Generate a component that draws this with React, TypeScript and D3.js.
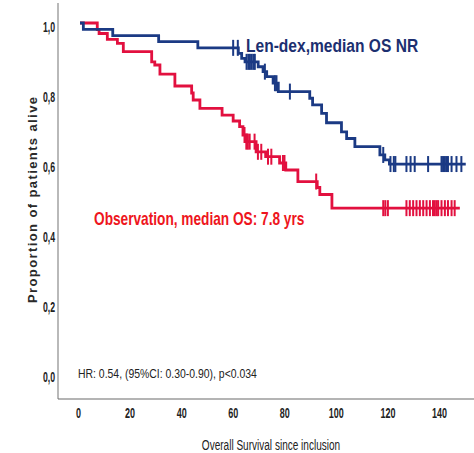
import React from "react";
import * as d3 from "d3";

// Len-dex arm: step times (months) and survival after each step
const lenTimes = [1.3, 12.7, 30.5, 45.7, 61.4, 62.7, 64, 69.1, 71, 72.4, 74.9, 76.9, 89.1, 90.2, 93.7, 95.6, 101.4, 103.4, 106.6, 116.3, 118.2, 120];
const lenSurv = [0.982, 0.964, 0.947, 0.929, 0.913, 0.899, 0.889, 0.875, 0.861, 0.847, 0.828, 0.804, 0.785, 0.766, 0.742, 0.715, 0.689, 0.67, 0.647, 0.623, 0.609, 0.597];
const lenCensor = [59.4, 61.2, 64.6, 65.3, 65.9, 66.6, 67.3, 67.8, 71.7, 75.6, 76.2, 81.4, 117.6, 120.4, 121.7, 122.3, 126.6, 128.2, 129.8, 135, 140.2, 140.8, 141.5, 142.1, 142.7, 144.1, 146, 147.9];
const lenEnd = 149.6;

// Observation arm
const obsTimes = [6.7, 7.4, 10.6, 14.5, 16.8, 27.8, 29, 31, 36.8, 43.3, 43.9, 46.5, 55.1, 59.4, 61.9, 63.2, 64.5, 68.3, 72, 77.4, 79.8, 84.5, 92, 93, 97.7];
const obsSurv = [0.981, 0.97, 0.953, 0.942, 0.918, 0.889, 0.88, 0.854, 0.82, 0.8, 0.78, 0.756, 0.737, 0.72, 0.704, 0.68, 0.661, 0.632, 0.618, 0.6, 0.58, 0.547, 0.53, 0.51, 0.471];
const obsCensor = [63.8, 64.5, 65.1, 65.8, 67.7, 69, 70.3, 72.9, 74.2, 78.7, 79.3, 91.6, 117.6, 118.4, 119.4, 126.6, 127.9, 129.2, 130.5, 131.8, 133.1, 134.4, 135.7, 136.9, 137.6, 138.3, 138.9, 140.2, 141.5, 142.7, 144.1, 145.3];
const obsEnd = 147.3;

const xTicks = [0, 20, 40, 60, 80, 100, 120, 140];
const yTicks = [0, 0.2, 0.4, 0.6, 0.8, 1.0];

const BLUE = "#1b3a84";
const RED = "#e2103f";
const FONT = "'Liberation Sans', Arial, sans-serif";

type Pt = { t: number; v: number };

const buildCurve = (times: number[], surv: number[], end: number): Pt[] => {
  const pts: Pt[] = [{ t: 0, v: 1 }];
  times.forEach((t, i) => pts.push({ t, v: surv[i] }));
  pts.push({ t: end, v: surv[surv.length - 1] });
  return pts;
};

const survAt = (pts: Pt[], t: number) => {
  let v = 1;
  for (const p of pts) if (p.t <= t) v = p.v;
  return v;
};

export default function App() {
  const ref = React.useRef<SVGSVGElement>(null);

  React.useEffect(() => {
    const width = 474;
    const height = 453;
    const svg = d3.select(ref.current);
    svg.selectAll("*").remove();

    const x = d3.scaleLinear().domain([0, 140]).range([80, 441]);
    const y = d3.scaleLinear().domain([0, 1]).range([373, 23]);

    // condensed text: no narrow font installed, so squeeze horizontally
    const narrow = (g: any, px: number, py: number, txt: string, sx: number, opts: any) =>
      g.append("text")
        .attr("transform", `translate(${px},${py}) scale(${sx},1)`)
        .attr("text-anchor", opts.anchor || "start")
        .attr("dy", opts.dy || null)
        .style("font-family", FONT)
        .style("font-weight", opts.bold ? "bold" : "normal")
        .style("font-size", opts.size + "px")
        .attr("fill", opts.fill || "#222")
        .text(txt);

    svg.append("rect").attr("width", width).attr("height", height).attr("fill", "white");

    // axes lines
    svg.append("line").attr("x1", 58).attr("x2", 58).attr("y1", 3).attr("y2", 399)
      .attr("stroke", "#8a8a8a").attr("stroke-width", 1.2);
    svg.append("line").attr("x1", 58).attr("x2", width).attr("y1", 399).attr("y2", 399)
      .attr("stroke", "#6a6a6a").attr("stroke-width", 1.2);

    const yAxis = svg.append("g");
    yTicks.forEach(d =>
      narrow(yAxis, 55, y(d) + 4, d.toFixed(1).replace(".", ","), 0.58,
        { anchor: "end", dy: "0.35em", bold: true, size: 15 }));

    const xAxis = svg.append("g");
    xTicks.forEach(d =>
      narrow(xAxis, x(d) - 1.5, 413, String(d), 0.6,
        { anchor: "middle", dy: "0.35em", bold: true, size: 15 }));

    svg.append("text")
      .attr("transform", "translate(32,200) rotate(-90)")
      .attr("text-anchor", "middle").attr("dy", "0.35em")
      .attr("textLength", 206).attr("lengthAdjust", "spacing")
      .style("font-family", FONT)
      .style("font-weight", "bold").style("font-size", "13px")
      .attr("fill", "#2a2a2a")
      .text("Proportion of patients alive");

    narrow(svg, 271, 445, "Overall Survival since inclusion", 0.67,
      { anchor: "middle", dy: "0.35em", size: 15 });

    narrow(svg, 78, 374, "HR: 0.54, (95%CI: 0.30-0.90), p<0.034", 0.87,
      { dy: "0.35em", size: 12 });

    const line = d3.line<Pt>().x(d => x(d.t)).y(d => y(d.v)).curve(d3.curveStepAfter);

    const arms = [
      { pts: buildCurve(obsTimes, obsSurv, obsEnd), censor: obsCensor, color: RED },
      { pts: buildCurve(lenTimes, lenSurv, lenEnd), censor: lenCensor, color: BLUE },
    ];

    arms.forEach(arm => {
      svg.append("path").datum(arm.pts)
        .attr("d", line)
        .attr("fill", "none").attr("stroke", arm.color).attr("stroke-width", 2.8);
      svg.append("g").selectAll("line").data(arm.censor).join("line")
        .attr("x1", d => x(d)).attr("x2", d => x(d))
        .attr("y1", d => y(survAt(arm.pts, d)) - 8)
        .attr("y2", d => y(survAt(arm.pts, d)) + 8)
        .attr("stroke", arm.color).attr("stroke-width", 2);
    });

    narrow(svg, 246, 52, "Len-dex,median OS NR", 0.82,
      { bold: true, size: 19, fill: "#1c2f70" });

    narrow(svg, 94, 225, "Observation, median OS: 7.8 yrs", 0.76,
      { bold: true, size: 18, fill: "#ee1520" });
  }, []);

  return (
    <svg
      ref={ref}
      width={474}
      height={453}
      style={{ position: "absolute", left: 0, top: 0 }}
    />
  );
}
